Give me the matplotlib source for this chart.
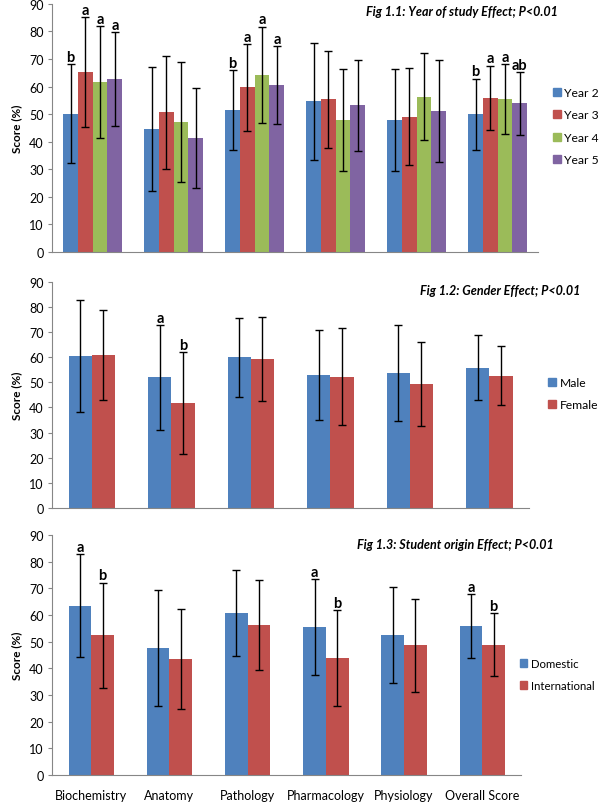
import numpy as np
import matplotlib
matplotlib.use('Agg')
import matplotlib.pyplot as plt
from matplotlib.patches import Patch

plt.rcParams['font.family'] = ['Lato', 'DejaVu Sans']

subjects = ['Biochemistry', 'Anatomy', 'Pathology', 'Pharmacology', 'Physiology', 'Overall Score']

# Fig 1.1 year of study
year_names = ['Year 2', 'Year 3', 'Year 4', 'Year 5']
year2 = [50.2, 44.7, 51.5, 54.7, 47.8, 49.9]
year3 = [65.2, 50.6, 59.7, 55.3, 49.1, 55.9]
year4 = [61.6, 47.1, 64.2, 47.8, 56.3, 55.4]
year5 = [62.7, 41.4, 60.5, 53.2, 51.2, 53.9]
year2_err = [17.8, 22.5, 14.5, 21.2, 18.5, 13.0]
year3_err = [20.0, 20.6, 15.7, 17.7, 17.6, 11.7]
year4_err = [20.3, 21.8, 17.5, 18.6, 15.7, 12.7]
year5_err = [17.1, 18.2, 14.2, 16.5, 18.6, 11.4]
year_letters = [['b', '', 'b', '', '', 'b'],
                ['a', '', 'a', '', '', 'a'],
                ['a', '', 'a', '', '', 'a'],
                ['a', '', 'a', '', '', 'ab']]

# Fig 1.2 gender
gender_names = ['Male', 'Female']
male = [60.5, 52.0, 60.0, 52.9, 53.7, 55.8]
female = [61.0, 41.8, 59.3, 52.3, 49.2, 52.7]
male_err = [22.4, 20.8, 15.7, 17.8, 18.9, 12.8]
female_err = [17.9, 20.2, 16.7, 19.2, 16.7, 11.8]
gender_letters = [['', 'a', '', '', '', ''],
                  ['', 'b', '', '', '', '']]

# Fig 1.3 student origin
origin_names = ['Domestic', 'International']
domestic = [63.4, 47.6, 60.8, 55.4, 52.5, 55.9]
international = [52.4, 43.4, 56.2, 43.9, 48.6, 48.9]
domestic_err = [19.3, 21.6, 16.0, 18.0, 17.9, 12.0]
international_err = [19.7, 18.7, 16.8, 18.0, 17.4, 11.9]
origin_letters = [['a', '', '', 'a', '', 'a'],
                  ['b', '', '', 'b', '', 'b']]

colors = ['#4F81BD', '#C0504D', '#9BBB59', '#8064A2']
axis_gray = '#868686'

fig = plt.figure(figsize=(6, 8.03), dpi=100)
ax1 = fig.add_axes([0.087, 0.685, 0.81, 0.309])
ax2 = fig.add_axes([0.087, 0.366, 0.795, 0.282])
ax3 = fig.add_axes([0.087, 0.0336, 0.782, 0.299])


def draw_panel(ax, series, errs, letters, names, width, title, title_xy,
               leg_anchor, leg_size, show_x):
    x = np.arange(len(subjects))
    n = len(series)
    for i in range(n):
        pos = x + (i - (n - 1) / 2) * width
        ax.bar(pos, series[i], width, color=colors[i], label=names[i], zorder=2)
        ax.errorbar(pos, series[i], yerr=errs[i], fmt='none', ecolor='black',
                    elinewidth=1, capsize=3, capthick=1, zorder=3)
        for j in range(len(x)):
            if letters[i][j]:
                ax.text(pos[j], series[i][j] + errs[i][j] + 1.2, letters[i][j],
                        ha='center', va='baseline', fontsize=10.5, fontweight='bold')
    ax.set_xlim(-0.5, len(subjects) - 0.5)
    ax.set_ylim(0, 90)
    ax.set_yticks(range(0, 91, 10))
    ax.tick_params(axis='y', labelsize=9, length=3, color=axis_gray, pad=3)
    ax.tick_params(axis='x', length=0, labelsize=9, pad=10)
    if show_x:
        ax.set_xticks(x)
        ax.set_xticklabels(subjects)
    else:
        ax.set_xticks([])
    for s in ['top', 'right']:
        ax.spines[s].set_visible(False)
    for s in ['left', 'bottom']:
        ax.spines[s].set_color(axis_gray)
        ax.spines[s].set_linewidth(0.8)
    ax.set_ylabel('Score (%)', fontsize=8.5, fontweight='bold', labelpad=5)
    handles = [Patch(color=colors[i]) for i in range(n)]
    fig.legend(handles, names, loc='upper left', bbox_to_anchor=leg_anchor,
               frameon=False, fontsize=leg_size, handlelength=0.65, handleheight=0.65,
               handletextpad=0.3, labelspacing=0.95, borderpad=0, borderaxespad=0)
    fig.text(title_xy[0], title_xy[1], title, ha='center', va='center',
             fontsize=9, fontweight='bold', fontstyle='italic')


draw_panel(ax1, [year2, year3, year4, year5],
           [year2_err, year3_err, year4_err, year5_err],
           year_letters, year_names, 0.182,
           'Fig 1.1: Year of study Effect; P<0.01', (462 / 600, 1 - 12 / 803),
           (553 / 600, 1 - 88 / 803), 8.7, False)
draw_panel(ax2, [male, female], [male_err, female_err],
           gender_letters, gender_names, 0.29,
           'Fig 1.2: Gender Effect; P<0.01', (500 / 600, 1 - 291 / 803),
           (548 / 600, 1 - 378 / 803), 8.7, False)
draw_panel(ax3, [domestic, international], [domestic_err, international_err],
           origin_letters, origin_names, 0.29,
           'Fig 1.3: Student origin Effect; P<0.01', (455 / 600, 1 - 545 / 803),
           (520 / 600, 1 - 659 / 803), 8.2, True)

fig.savefig('out.png', dpi=100)
